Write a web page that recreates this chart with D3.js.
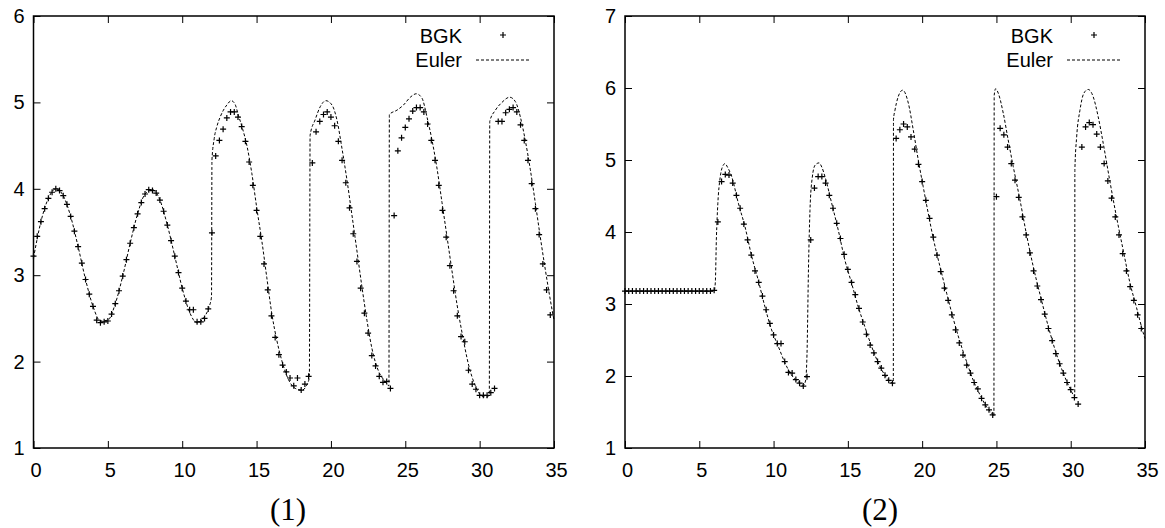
<!DOCTYPE html>
<html lang="en">
<head>
<meta charset="UTF-8">
<title>BGK vs Euler</title>
<script src="https://cdn.jsdelivr.net/npm/d3@7/dist/d3.min.js"></script>
<style>
  body { margin: 0; background: #fff; }
  svg { display: block; }
</style>
</head>
<body>
<div id="viz"></div>
<script>
// tick values
let xTicks = [0, 5, 10, 15, 20, 25, 30, 35];
let yTicks1 = [1, 2, 3, 4, 5, 6];
let yTicks2 = [1, 2, 3, 4, 5, 6, 7];
let captions = ["(1)", "(2)"];
let legendNames = ["BGK", "Euler"];

// panel (1) - Euler solution, [x, y]
let euler1 = [
  [0,3.20],[0.5,3.62],[1.0,3.89],[1.5,4.00],[2.0,3.92],[2.5,3.68],[3.0,3.33],[3.5,2.95],
  [4.0,2.64],[4.5,2.47],[5.0,2.48],[5.5,2.67],[6.0,2.99],[6.5,3.37],[7.0,3.71],[7.5,3.94],
  [8.0,3.99],[8.5,3.87],[9.0,3.58],[9.5,3.22],[10.0,2.85],[10.5,2.57],[11.0,2.45],[11.5,2.52],
  [11.8,2.63],[11.97,2.75],[12.0,4.33],[12.15,4.58],[12.33,4.72],[12.55,4.83],[12.77,4.91],
  [13.0,4.97],[13.3,5.02],[13.55,4.98],[13.78,4.85],[14.05,4.70],[14.35,4.50],[14.68,4.18],
  [15.02,3.77],[15.36,3.39],[15.69,2.97],[16.03,2.55],[16.37,2.24],[16.7,2.01],[17.15,1.79],
  [17.6,1.69],[18.05,1.67],[18.35,1.72],[18.55,1.82],[18.6,4.62],[18.94,4.80],[19.28,4.95],
  [19.66,5.02],[20.07,4.97],[20.4,4.80],[20.74,4.47],[21.08,4.10],[21.41,3.70],[21.75,3.28],
  [22.09,2.86],[22.42,2.48],[22.76,2.15],[23.2,1.89],[23.65,1.77],[23.9,1.72],[23.93,4.86],
  [24.44,4.91],[24.88,4.97],[25.34,5.06],[25.74,5.10],[26.12,5.05],[26.46,4.83],[26.8,4.56],
  [27.13,4.24],[27.47,3.84],[27.81,3.44],[28.14,3.05],[28.48,2.66],[28.82,2.33],[29.26,1.96],
  [29.71,1.72],[30.16,1.60],[30.5,1.59],[30.65,1.62],[30.68,4.78],[31.06,4.91],[31.5,5.00],
  [32.02,5.06],[32.4,5.01],[32.74,4.83],[33.07,4.56],[33.41,4.22],[33.75,3.83],[34.08,3.44],
  [34.42,3.06],[34.87,2.60],[35,2.48]
];

// panel (1) - BGK solution, [x, y]
let bgk1 = [
  [0,3.22],[0.25,3.45],[0.5,3.62],[0.75,3.77],[1.0,3.89],[1.25,3.96],[1.5,4.00],[1.75,3.98],
  [2.0,3.92],[2.25,3.82],[2.5,3.68],[2.75,3.51],[3.0,3.33],[3.25,3.14],[3.5,2.95],[3.75,2.78],
  [4.0,2.64],[4.25,2.48],[4.5,2.45],[4.75,2.46],[5.0,2.47],[5.25,2.55],[5.5,2.67],[5.75,2.82],
  [6.0,2.99],[6.25,3.18],[6.5,3.37],[6.75,3.55],[7.0,3.71],[7.25,3.84],[7.5,3.94],[7.75,3.99],
  [8.0,3.98],[8.25,3.95],[8.5,3.87],[8.75,3.74],[9.0,3.58],[9.25,3.40],[9.5,3.22],[9.75,3.03],
  [10.0,2.85],[10.25,2.70],[10.5,2.60],[10.75,2.60],[11.0,2.46],[11.25,2.46],[11.5,2.50],[11.75,2.61],
  [12.0,3.49],[12.25,4.38],[12.5,4.56],[12.75,4.69],[13.0,4.82],[13.25,4.89],[13.5,4.89],[13.75,4.83],
  [14.0,4.72],[14.25,4.55],[14.5,4.31],[14.75,4.04],[15.0,3.75],[15.25,3.45],[15.5,3.13],[15.75,2.83],
  [16.0,2.53],[16.25,2.28],[16.5,2.08],[16.75,1.96],[17.0,1.88],[17.25,1.81],[17.5,1.72],[17.75,1.81],
  [18.0,1.67],[18.25,1.74],[18.5,1.83],[18.75,4.30],[19.0,4.66],[19.25,4.78],[19.5,4.86],[19.75,4.89],
  [20.0,4.83],[20.25,4.73],[20.5,4.55],[20.75,4.33],[21.0,4.07],[21.25,3.78],[21.5,3.48],[21.75,3.16],
  [22.0,2.85],[22.25,2.56],[22.5,2.33],[22.75,2.07],[23.0,1.95],[23.25,1.83],[23.5,1.76],[23.75,1.77],
  [24.0,1.69],[24.25,3.69],[24.5,4.44],[24.75,4.59],[25.0,4.71],[25.25,4.81],[25.5,4.90],[25.75,4.94],
  [26.0,4.94],[26.25,4.89],[26.5,4.75],[26.75,4.56],[27.0,4.33],[27.25,4.04],[27.5,3.75],[27.75,3.44],
  [28.0,3.11],[28.25,2.82],[28.5,2.53],[28.75,2.29],[29.0,2.23],[29.25,1.90],[29.5,1.74],[29.75,1.68],
  [30.0,1.61],[30.25,1.61],[30.5,1.61],[30.75,1.64],[31.0,1.69],[31.25,4.78],[31.5,4.78],[31.75,4.88],
  [32.0,4.92],[32.25,4.94],[32.5,4.89],[32.75,4.74],[33.0,4.56],[33.25,4.33],[33.5,4.06],[33.75,3.77],
  [34.0,3.47],[34.25,3.13],[34.5,2.83],[34.75,2.54]
];

// panel (2) - Euler solution, [x, y]
let euler2 = [
  [0,3.18],[6.0,3.18],[6.08,3.30],[6.15,3.90],[6.25,4.40],[6.4,4.75],[6.55,4.90],[6.73,4.95],
  [6.9,4.90],[7.18,4.77],[7.63,4.40],[8.08,4.07],[8.53,3.66],[8.97,3.33],[9.42,2.96],[9.87,2.64],
  [10.32,2.41],[10.77,2.18],[11.22,2.01],[11.66,1.92],[12.0,1.87],[12.15,1.93],[12.25,2.30],
  [12.35,3.50],[12.45,4.30],[12.6,4.75],[12.8,4.93],[13.06,4.96],[13.25,4.90],[13.46,4.77],
  [13.91,4.40],[14.35,4.03],[14.8,3.61],[15.25,3.29],[15.7,2.96],[16.15,2.68],[16.6,2.41],
  [17.05,2.18],[17.5,2.01],[18.06,1.90],[18.07,5.56],[18.17,5.69],[18.39,5.88],[18.69,5.97],
  [19.07,5.79],[19.4,5.42],[19.74,5.00],[20.07,4.63],[20.41,4.26],[20.75,3.91],[21.2,3.52],
  [21.65,3.15],[22.09,2.80],[22.54,2.48],[22.99,2.20],[23.44,1.94],[23.89,1.74],[24.34,1.57],
  [24.8,1.45],[24.83,1.44],[24.85,5.90],[24.95,5.99],[25.12,5.93],[25.46,5.65],[25.79,5.28],
  [26.13,4.91],[26.58,4.45],[27.03,3.96],[27.5,3.50],[28.0,3.08],[28.5,2.68],[29.0,2.33],
  [29.5,2.04],[29.95,1.83],[30.27,1.72],[30.28,4.86],[30.4,5.32],[30.62,5.69],[30.89,5.93],
  [31.18,5.98],[31.51,5.88],[31.85,5.60],[32.19,5.23],[32.64,4.70],[33.09,4.20],[33.53,3.75],
  [33.98,3.30],[34.43,2.95],[34.88,2.60],[35,2.52]
];

// panel (2) - BGK solution, [x, y]
let bgk2 = [
  [0,3.18],[0.25,3.18],[0.5,3.18],[0.75,3.18],[1.0,3.18],[1.25,3.18],[1.5,3.18],[1.75,3.18],
  [2.0,3.18],[2.25,3.18],[2.5,3.18],[2.75,3.18],[3.0,3.18],[3.25,3.18],[3.5,3.18],[3.75,3.18],
  [4.0,3.18],[4.25,3.18],[4.5,3.18],[4.75,3.18],[5.0,3.18],[5.25,3.18],[5.5,3.18],[5.75,3.18],
  [6.0,3.19],[6.25,4.14],[6.5,4.70],[6.75,4.80],[7.0,4.79],[7.25,4.68],[7.5,4.51],[7.75,4.33],
  [8.0,4.11],[8.25,3.89],[8.5,3.68],[8.75,3.46],[9.0,3.30],[9.25,3.11],[9.5,2.92],[9.75,2.73],
  [10.0,2.57],[10.25,2.45],[10.5,2.45],[10.75,2.20],[11.0,2.05],[11.25,2.04],[11.5,1.95],[11.75,1.90],
  [12.0,1.86],[12.25,1.99],[12.5,3.89],[12.75,4.61],[13.0,4.77],[13.25,4.77],[13.5,4.68],[13.75,4.51],
  [14.0,4.33],[14.25,4.12],[14.5,3.91],[14.75,3.69],[15.0,3.48],[15.25,3.30],[15.5,3.13],[15.75,2.94],
  [16.0,2.75],[16.25,2.58],[16.5,2.43],[16.75,2.32],[17.0,2.20],[17.25,2.11],[17.5,2.01],[17.75,1.94],
  [18.0,1.90],[18.25,5.30],[18.5,5.42],[18.75,5.50],[19.0,5.46],[19.25,5.32],[19.5,5.15],[19.75,4.94],
  [20.0,4.70],[20.25,4.44],[20.5,4.19],[20.75,3.93],[21.0,3.68],[21.25,3.45],[21.5,3.22],[21.75,3.05],
  [22.0,2.85],[22.25,2.64],[22.5,2.46],[22.75,2.29],[23.0,2.15],[23.25,2.04],[23.5,1.91],[23.75,1.82],
  [24.0,1.69],[24.25,1.60],[24.5,1.53],[24.75,1.46],[25.0,4.49],[25.25,5.44],[25.5,5.35],[25.75,5.18],
  [26.0,4.95],[26.25,4.72],[26.5,4.48],[26.75,4.21],[27.0,3.96],[27.25,3.71],[27.5,3.46],[27.75,3.25],
  [28.0,3.06],[28.25,2.86],[28.5,2.66],[28.75,2.49],[29.0,2.31],[29.25,2.17],[29.5,2.04],[29.75,1.91],
  [30.0,1.81],[30.25,1.70],[30.5,1.61],[30.75,5.18],[31.0,5.46],[31.25,5.52],[31.5,5.49],[31.75,5.36],
  [32.0,5.18],[32.25,4.95],[32.5,4.71],[32.75,4.47],[33.0,4.21],[33.25,3.96],[33.5,3.70],[33.75,3.46],
  [34.0,3.24],[34.25,3.05],[34.5,2.85],[34.75,2.66]
];

let W = 1165, H = 528;

let svg = d3.select("#viz").append("svg")
  .attr("width", W)
  .attr("height", H);

let panels = [
  {left: 33.5, right: 554, top: 16, bottom: 448, yTicks: yTicks1, euler: euler1, bgk: bgk1, caption: captions[0], capX: 288},
  {left: 625, right: 1145, top: 16, bottom: 448, yTicks: yTicks2, euler: euler2, bgk: bgk2, caption: captions[1], capX: 880}
];

panels.forEach(drawPanel);

function drawPanel(p) {
  let x = d3.scaleLinear().domain([0, 35]).range([p.left, p.right]);
  let y = d3.scaleLinear()
    .domain([p.yTicks[0], p.yTicks[p.yTicks.length - 1]])
    .range([p.bottom, p.top]);

  let g = svg.append("g");

  // the euler line
  let line = d3.line()
    .x(function(d) { return x(d[0]); })
    .y(function(d) { return y(d[1]); })
    .curve(d3.curveMonotoneX);

  g.append("path")
    .datum(p.euler)
    .attr("fill", "none")
    .attr("stroke", "#000")
    .attr("stroke-width", 1)
    .attr("stroke-dasharray", "3,2")
    .attr("d", line);

  // bgk points as small plus signs
  g.selectAll(".bgk")
    .data(p.bgk)
    .enter()
    .append("path")
    .attr("class", "bgk")
    .attr("d", "M-3,0H3M0,-3V3")
    .attr("transform", function(d) { return "translate(" + x(d[0]) + "," + y(d[1]) + ")"; })
    .attr("stroke", "#000")
    .attr("stroke-width", 1.2)
    .attr("fill", "none");

  // axes, ticks point inwards
  let bottom = g.append("g")
    .attr("transform", "translate(0," + p.bottom + ")")
    .call(d3.axisBottom(x).tickValues(xTicks).tickSizeInner(-7).tickSizeOuter(0).tickPadding(15).tickFormat(d3.format("d")));
  let leftAx = g.append("g")
    .attr("transform", "translate(" + p.left + ",0)")
    .call(d3.axisLeft(y).tickValues(p.yTicks).tickSizeInner(-7).tickSizeOuter(0).tickPadding(9).tickFormat(d3.format("d")));
  g.append("g")
    .attr("transform", "translate(0," + p.top + ")")
    .call(d3.axisTop(x).tickValues(xTicks).tickSizeInner(-7).tickSizeOuter(0).tickFormat(""));
  g.append("g")
    .attr("transform", "translate(" + p.right + ",0)")
    .call(d3.axisRight(y).tickValues(p.yTicks).tickSizeInner(-7).tickSizeOuter(0).tickFormat(""));

  g.selectAll(".domain").remove();
  g.selectAll(".tick line").attr("stroke", "#000").attr("stroke-width", 1);
  g.selectAll(".tick text")
    .attr("font-family", "'Liberation Sans', Arial, sans-serif")
    .attr("font-size", 20)
    .attr("fill", "#000");
  bottom.selectAll(".tick text").attr("dx", 2);

  // frame
  g.append("rect")
    .attr("x", p.left)
    .attr("y", p.top)
    .attr("width", p.right - p.left)
    .attr("height", p.bottom - p.top)
    .attr("fill", "none")
    .attr("stroke", "#000")
    .attr("stroke-width", 1.5);

  // legend
  let lg = g.append("g")
    .attr("font-family", "'Liberation Sans', Arial, sans-serif")
    .attr("font-size", 20);
  lg.append("text")
    .attr("x", p.right - 92)
    .attr("y", 43)
    .attr("text-anchor", "end")
    .text(legendNames[0]);
  lg.append("text")
    .attr("x", p.right - 92)
    .attr("y", 67)
    .attr("text-anchor", "end")
    .text(legendNames[1]);
  lg.append("path")
    .attr("d", "M-3,0H3M0,-3V3")
    .attr("transform", "translate(" + (p.right - 51) + ",35)")
    .attr("stroke", "#000")
    .attr("stroke-width", 1.2);
  lg.append("line")
    .attr("x1", p.right - 78)
    .attr("x2", p.right - 24)
    .attr("y1", 60)
    .attr("y2", 60)
    .attr("stroke", "#000")
    .attr("stroke-width", 1)
    .attr("stroke-dasharray", "3,2");

  // caption under the panel
  svg.append("text")
    .attr("x", p.capX)
    .attr("y", 520)
    .attr("text-anchor", "middle")
    .attr("font-family", "'Liberation Serif', 'DejaVu Serif', serif")
    .attr("font-size", 31)
    .text(p.caption);
}
</script>
</body>
</html>
